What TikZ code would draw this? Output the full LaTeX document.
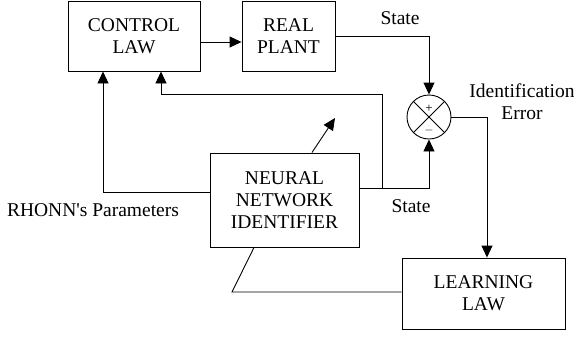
\documentclass[tikz,border=0pt]{standalone}
\usepackage{fontspec}
\setmainfont{Liberation Serif}
\usetikzlibrary{arrows.meta,calc,positioning}
\tikzset{
  blockNode/.style={draw, align=center, font=\fontsize{19.5}{22}\selectfont, inner sep=0pt},
  sumNode/.style={draw, circle, minimum size=44pt, inner sep=0pt},
  sigArrow/.style={-{Triangle[length=12pt,width=11pt]}, line width=0.9pt},
  sigLine/.style={line width=0.9pt},
  sigLabel/.style={align=center, font=\fontsize{19.5}{22}\selectfont, inner sep=0pt}
}
\begin{document}
\begin{tikzpicture}[x=1pt, y=-1pt, line width=0.9pt]
      \useasboundingbox (0,0) rectangle (574,338);
      \node[blockNode, minimum width=132pt, minimum height=70pt] (ctrl) at (134,36) {CONTROL\\LAW};
      \node[blockNode, minimum width=93pt, minimum height=70pt] (plant) at (288.5,36) {REAL\\PLANT};
      \node[sumNode] (sum) at (429,117) {};
      \node[blockNode, minimum width=149pt, minimum height=94pt] (nn) at (284.5,200) {NEURAL\\NETWORK\\IDENTIFIER};
      \node[blockNode, minimum width=163pt, minimum height=71pt] (learn) at (483.5,293.5) {LEARNING\\LAW};
      \draw[sigLine] (sum.north west) -- (sum.south east);
      \draw[sigLine] (sum.north east) -- (sum.south west);
      \node[font=\fontsize{13}{13}\selectfont, inner sep=0pt] (plus) at (429,109) {+};
      \node[font=\fontsize{13}{13}\selectfont, inner sep=0pt] (minus) at (429,130) {$-$};
      \node[sigLabel] (stateTop) at (400,18) {State};
      \node[sigLabel] (stateBot) at (411,206) {State};
      \node[sigLabel] (params) at (93,210) {RHONN\textquotesingle s Parameters};
      \node[sigLabel] (idErr) at (522,102) {Identification\\Error};
      \coordinate (tap) at (382,188);
      \coordinate (adj) at (335,118);
      \coordinate (kink) at (232,292);
      \draw[sigArrow] ([yshift=-6pt]ctrl.east) -- ([yshift=-6pt]plant.west);
      \draw[sigArrow] (plant.east) -| (sum.north);
      \draw[sigArrow] (sum.east) -| ([xshift=3.5pt]learn.north);
      \draw[sigArrow] ([yshift=12pt]nn.east) -| (sum.south);
      \draw[sigArrow] (tap) |- ([xshift=27pt]ctrl.south |- 0,94) -- ([xshift=27pt]ctrl.south);
      \draw[sigArrow] ([yshift=8pt]nn.west) -| ([xshift=-31pt]ctrl.south);
      \draw[sigArrow] ([xshift=27.5pt]nn.north) -- (adj);
      \draw[sigLine] ([xshift=-30.5pt]nn.south) -- (kink) -- (learn.west |- kink);
    \end{tikzpicture}
\end{document}
